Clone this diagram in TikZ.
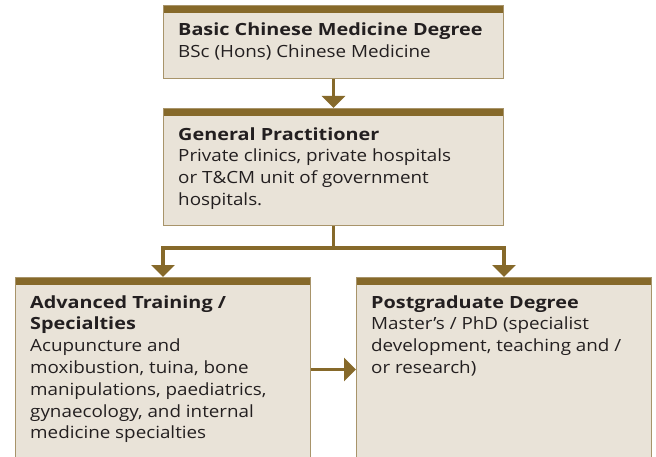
\documentclass[tikz,border=0pt]{standalone}
\usepackage{fontspec}
\setmainfont[FakeStretch=1.12,BoldFeatures={FakeStretch=1.18}]{Open Sans}
\usepackage{tikz}
\usetikzlibrary{positioning}
\usetikzlibrary{arrows.meta}
\definecolor{barbrown}{HTML}{86692A}
\definecolor{boxfill}{HTML}{E9E3D8}
\definecolor{boxline}{HTML}{A8946A}
\definecolor{inktext}{HTML}{231F20}

\begin{document}
\begin{tikzpicture}[x=1pt,y=1pt,
  box/.style={draw=boxline,line width=1pt,fill=boxfill,anchor=north west,inner sep=0pt,
    path picture={\fill[barbrown] (path picture bounding box.north west) rectangle ([yshift=-7.5pt]path picture bounding box.north east);}},
  txt/.style={anchor=base west,inner sep=0pt,align=left,text=inktext,font=\fontsize{16.8}{21.8}\selectfont},
  flow/.style={draw=barbrown,line width=3.5pt,-{Triangle[width=23pt,length=12pt]}},
  link/.style={draw=barbrown,line width=3.5pt}]
  \useasboundingbox (0,0) rectangle (656,456);
  \clip (0,0) rectangle (656,456);
  \node[box,minimum width=340pt,minimum height=73pt] (basic) at (163,451) {};
  \node[box,minimum width=340pt,minimum height=117pt] (general) at (163,348) {};
  \node[box,minimum width=295pt,minimum height=184pt] (advanced) at (15,179) {};
  \node[box,minimum width=295pt,minimum height=184pt] (postgrad) at (356,179) {};
  \node[txt] (basictxt) at ([shift={(15,-52.8)}]basic.north west) {\textbf{Basic Chinese Medicine Degree}\\BSc (Hons) Chinese Medicine};
  \node[txt] (generaltxt) at ([shift={(15,-97.4)}]general.north west) {\textbf{General Practitioner}\\Private clinics, private hospitals\\or T\&CM unit of government\\hospitals.};
  \node[txt] (advancedtxt) at ([shift={(15,-161.8)}]advanced.north west) {\textbf{Advanced Training /}\\\textbf{Specialties}\\Acupuncture and\\moxibustion, tuina, bone\\manipulations, paediatrics,\\gynaecology, and internal\\medicine specialties};
  \node[txt] (postgradtxt) at ([shift={(15,-96.4)}]postgrad.north west) {\textbf{Postgraduate Degree}\\Master’s / PhD (specialist\\development, teaching and /\\or research)};
  \coordinate (split) at ([yshift=-22pt]general.south);
  \draw[flow] (basic.south) -- (general.north);
  \draw[link] (general.south) -- (split);
  \draw[flow] (split) -| (advanced.north);
  \draw[flow] (split) -| (postgrad.north);
  \draw[flow] (advanced.east) -- (postgrad.west);
\end{tikzpicture}
\end{document}
